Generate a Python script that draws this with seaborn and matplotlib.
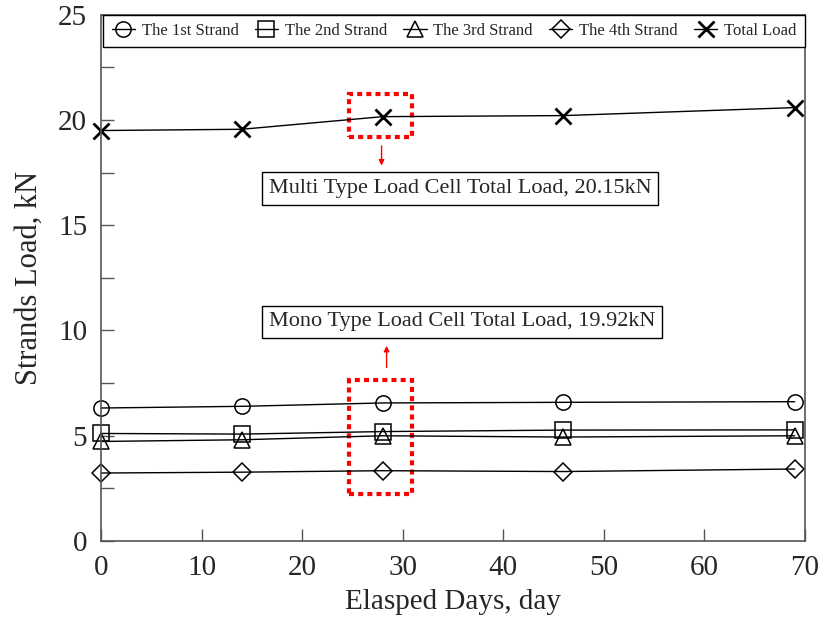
import seaborn as sns
import matplotlib.pyplot as plt
import matplotlib.patches as mpatches
import pandas as pd

# Data
days = [0, 14, 28, 46, 69]
strand_1 = [6.31, 6.39, 6.55, 6.58, 6.61]
strand_2 = [5.10, 5.07, 5.19, 5.26, 5.27]
strand_3 = [4.72, 4.80, 4.99, 4.93, 4.99]
strand_4 = [3.22, 3.26, 3.33, 3.29, 3.41]
total_load = [19.50, 19.56, 20.16, 20.21, 20.59]

series_names = ["The 1st Strand", "The 2nd Strand", "The 3rd Strand",
                "The 4th Strand", "Total Load"]
series_values = [strand_1, strand_2, strand_3, strand_4, total_load]
series_markers = ["o", "s", "^", "D", "x"]

sns.set_style("ticks")
plt.rcParams["font.family"] = ["Liberation Serif", "DejaVu Serif"]

fig = plt.figure(figsize=(8.22, 6.18), dpi=100)
ax = fig.add_axes([0.123, 0.125, 0.856, 0.851])

for name, vals, mk in zip(series_names, series_values, series_markers):
    df = pd.DataFrame({"Day": days, "Load": vals})
    size = 9 if mk == "D" else 11
    sns.lineplot(data=df, x="Day", y="Load", ax=ax, color="black",
                 linewidth=1.0, marker=mk, markersize=size,
                 markerfacecolor="none", markeredgecolor="black",
                 markeredgewidth=2.0 if mk == "x" else 1.1, label=name,
                 clip_on=False)

ax.set_xlim(0, 70)
ax.set_ylim(0, 25)
ax.set_xticks(range(0, 71, 10))
ax.set_yticks(range(0, 26, 5))
ax.set_yticks([2.5, 7.5, 12.5, 17.5, 22.5], minor=True)
ax.tick_params(axis="both", which="both", direction="in", labelsize=21,
               top=False, right=False, width=1.0, color="#555555")
ax.tick_params(axis="both", which="major", length=9)
ax.tick_params(axis="x", which="major", pad=10)
ax.tick_params(axis="y", which="both", pad=10)
ax.tick_params(axis="y", which="minor", length=9)
for sp in ax.spines.values():
    sp.set_color("#555555")
    sp.set_linewidth(1.2)

ax.set_xlabel("Elasped Days, day", fontsize=21, labelpad=6)
ax.set_ylabel("Strands Load, kN", fontsize=22, labelpad=10)

# Red dashed highlight boxes
ax.add_patch(mpatches.Rectangle((24.7, 19.2), 6.2, 2.05, fill=False,
                                edgecolor="red", linestyle=(0, (1.2, 1.0)),
                                linewidth=3, zorder=1))
ax.add_patch(mpatches.Rectangle((24.7, 2.23), 6.2, 5.42, fill=False,
                                edgecolor="red", linestyle=(0, (1.2, 1.0)),
                                linewidth=3, zorder=1))

# Arrows
ax.annotate("", xy=(27.9, 17.7), xytext=(27.9, 18.9),
            arrowprops=dict(arrowstyle="-|>", color="red", lw=1,
                            mutation_scale=8))
ax.annotate("", xy=(28.4, 9.4), xytext=(28.4, 8.1),
            arrowprops=dict(arrowstyle="-|>", color="red", lw=1,
                            mutation_scale=8))

# Text boxes
box = dict(boxstyle="square,pad=0.3", facecolor="white", edgecolor="black",
           linewidth=1.0)
ax.text(35.7, 16.75, "Multi Type Load Cell Total Load, 20.15kN", fontsize=16,
        ha="center", va="center", bbox=box)
ax.text(35.9, 10.4, "Mono Type Load Cell Total Load, 19.92kN", fontsize=16,
        ha="center", va="center", bbox=box)

leg = ax.legend(loc="upper left", bbox_to_anchor=(0.003, 1.0, 0.997, 0.0),
                mode="expand", ncol=5, fontsize=12, frameon=True,
                fancybox=False, edgecolor="black", framealpha=1,
                handlelength=1.4, handletextpad=0.4, columnspacing=0.5,
                borderaxespad=0.0, borderpad=0.5)
leg.get_frame().set_linewidth(1.0)

plt.savefig("out.png", dpi=100)
